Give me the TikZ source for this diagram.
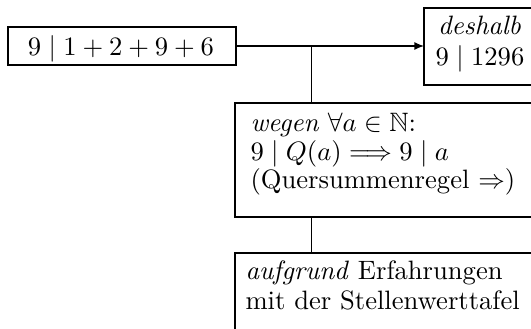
\documentclass[tikz,border=0pt]{standalone}
\usepackage{amssymb}
\usetikzlibrary{arrows.meta}
\begin{document}
\begin{tikzpicture}[x=0.376pt,y=-0.376pt,
  box/.style={draw, line width=0.5pt, inner sep=0pt, outer sep=0pt, anchor=north west},
  txt/.style={inner sep=0pt, outer sep=0pt},
  conn/.style={line width=0.5pt},
  font=\fontsize{10}{12}\selectfont]
\useasboundingbox (0,0) rectangle (531,329);
\clip (0,0) rectangle (531,329);
% boxes
\node[box, minimum width=85.73pt, minimum height=14.29pt] (A) at (8,27) {};
\node[box, minimum width=48.9pt, minimum height=28.95pt] (B) at (424,8) {};
\node[box, minimum width=124pt, minimum height=42.86pt] (C) at (235,103) {};
\node[box, minimum width=124pt, minimum height=37.6pt] (D) at (235,253) {};
% texts
\node[txt, anchor=base] (At) at (121,55.5) {$9\mid 1+2+9+6$};
\node[txt, anchor=base] (B1) at (479.5,35) {\textit{deshalb}};
\node[txt, anchor=base] (B2) at (480,66) {$9\mid 1296$};
\node[txt, anchor=base west] (C1) at (250.5,132) {\textit{wegen} $\forall a\in\mathbb{N}$:};
\node[txt, anchor=base west] (C2) at (250.5,161) {$9\mid Q(a)\Longrightarrow 9\mid a$};
\node[txt, anchor=base west] (C3) at (250.5,189) {(Quersummenregel $\Rightarrow$)};
\node[txt, anchor=base west] (D1) at (245.5,280) {\textit{aufgrund} Erfahrungen};
\node[txt, anchor=base west] (D2) at (245.5,309) {mit der Stellenwerttafel};
% connectors
\coordinate (J) at (311.7,46);
\draw[conn, -{Latex[length=3.6pt,width=3pt]}] (A.east) -- (A.east -| B.west);
\draw[conn] (J) -- (J |- C.north);
\draw[conn] (J |- C.south) -- (J |- D.north);
\end{tikzpicture}
\end{document}
